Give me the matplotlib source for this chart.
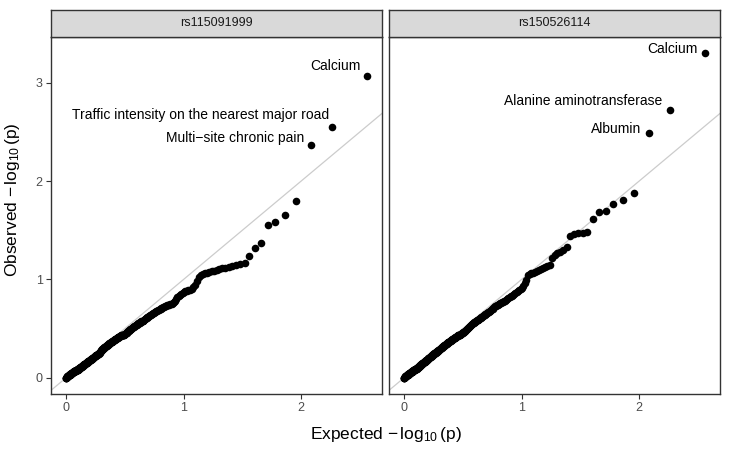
import numpy as np
import matplotlib; matplotlib.use("Agg"); import matplotlib.pyplot as plt

plt.rcParams["font.family"] = ["Liberation Sans", "DejaVu Sans"]
plt.rcParams["mathtext.fontset"] = "custom"
plt.rcParams["mathtext.rm"] = "Liberation Sans"
plt.rcParams["mathtext.it"] = "Liberation Sans"
plt.rcParams["mathtext.default"] = "regular"

# observed -log10(p), sorted high -> low (one value per trait)
snps = ["rs115091999", "rs150526114"]
obs_rs115091999 = [
    3.07, 2.55, 2.37, 1.80, 1.66, 1.585, 1.55, 1.37, 1.32, 1.24, 1.17,
    1.16, 1.15, 1.14, 1.13, 1.12, 1.12, 1.11, 1.10, 1.09, 1.09, 1.08, 1.07, 1.07, 1.06,
    1.05, 1.02, 0.98, 0.94, 0.92,
    0.90, 0.89, 0.89, 0.885, 0.88, 0.87,
    0.86, 0.85, 0.84, 0.83, 0.82, 0.80, 0.78, 0.77, 0.76,
    0.755, 0.75, 0.745, 0.74, 0.735, 0.73, 0.725, 0.72, 0.715, 0.71, 0.705, 0.70, 0.70,
    0.69, 0.69, 0.68, 0.68, 0.67, 0.67, 0.66, 0.66, 0.65, 0.65, 0.64, 0.64, 0.63, 0.63,
    0.62, 0.62, 0.61, 0.61, 0.60, 0.60, 0.59, 0.58,
    0.58, 0.58, 0.58, 0.57, 0.57, 0.56, 0.56, 0.56, 0.55, 0.55, 0.54, 0.54, 0.54, 0.53,
    0.53, 0.52, 0.52, 0.52, 0.51, 0.51, 0.50, 0.50, 0.50, 0.49, 0.49, 0.48, 0.48, 0.48,
    0.47, 0.47, 0.46, 0.46, 0.46, 0.45, 0.45,
    0.44, 0.44, 0.44, 0.44, 0.43, 0.43, 0.43, 0.43, 0.42, 0.42, 0.42, 0.42, 0.41, 0.41,
    0.41, 0.41, 0.40, 0.40, 0.40, 0.40, 0.39, 0.39, 0.39, 0.39, 0.38, 0.38, 0.38, 0.38,
    0.37, 0.37, 0.37, 0.37, 0.36, 0.36, 0.36, 0.36, 0.35, 0.35, 0.35, 0.35, 0.34, 0.34,
    0.34, 0.34, 0.33, 0.33, 0.33, 0.33, 0.32, 0.32, 0.32, 0.32, 0.31, 0.31, 0.31, 0.31,
    0.30, 0.30, 0.30, 0.30, 0.29, 0.29, 0.29, 0.29, 0.28, 0.28, 0.28,
    0.27, 0.27, 0.26, 0.26, 0.26, 0.25, 0.25, 0.25, 0.25, 0.24, 0.24, 0.24, 0.24, 0.24,
    0.23, 0.23, 0.23, 0.23,
    0.23, 0.23, 0.22, 0.22, 0.22, 0.22, 0.22, 0.21, 0.21, 0.21, 0.21, 0.21, 0.20, 0.20,
    0.20, 0.20, 0.20, 0.19, 0.19, 0.19, 0.19, 0.19, 0.19, 0.18, 0.18, 0.18, 0.18, 0.18, 0.18,
    0.17, 0.17, 0.17, 0.17, 0.17, 0.17, 0.16, 0.16, 0.16, 0.16, 0.16, 0.16,
    0.15, 0.15, 0.15, 0.15, 0.15, 0.15, 0.14, 0.14, 0.14, 0.14, 0.14, 0.14, 0.14,
    0.13, 0.13, 0.13, 0.13, 0.13, 0.13,
    0.12, 0.12, 0.12, 0.12, 0.12, 0.12, 0.12, 0.11, 0.11, 0.11, 0.11, 0.11, 0.11, 0.11,
    0.10, 0.10, 0.10, 0.10, 0.10, 0.10, 0.10, 0.09, 0.09, 0.09, 0.09, 0.09, 0.09, 0.09,
    0.08, 0.08, 0.08, 0.08, 0.08, 0.08, 0.08, 0.08, 0.08, 0.08, 0.08, 0.08,
    0.07, 0.07, 0.07, 0.07, 0.07, 0.07, 0.07, 0.07, 0.07, 0.07,
    0.06, 0.06, 0.06, 0.06, 0.06, 0.06, 0.06, 0.06, 0.06,
    0.05, 0.05, 0.05, 0.05, 0.05, 0.05, 0.05, 0.05,
    0.04, 0.04, 0.04, 0.04, 0.04, 0.04, 0.04, 0.04, 0.04,
    0.03, 0.03, 0.03, 0.03, 0.03, 0.03, 0.03, 0.03, 0.03,
    0.02, 0.02, 0.02, 0.02, 0.02, 0.02, 0.02, 0.02,
    0.01, 0.01, 0.01, 0.01, 0.01, 0.01, 0.00, 0.00, 0.00, 0.00,
]
obs_rs150526114 = [
    3.30, 2.72, 2.49, 1.88, 1.81, 1.77, 1.70, 1.69, 1.61,
    1.48, 1.475, 1.47, 1.46, 1.44,
    1.33, 1.30, 1.28, 1.27, 1.25, 1.22,
    1.15, 1.14, 1.13, 1.12, 1.11, 1.10, 1.09, 1.08, 1.07, 1.065, 1.06, 1.05,
    0.99, 0.96, 0.93, 0.91, 0.90, 0.89, 0.88, 0.87, 0.86, 0.85, 0.84, 0.83, 0.83, 0.82,
    0.81, 0.80, 0.79, 0.785,
    0.78, 0.775, 0.77, 0.765, 0.76, 0.755, 0.75, 0.745, 0.74, 0.73, 0.725, 0.72, 0.71,
    0.70, 0.695, 0.69,
    0.68, 0.68, 0.67, 0.67, 0.66, 0.66, 0.65, 0.65, 0.64, 0.64, 0.63, 0.63, 0.62, 0.62,
    0.61, 0.61, 0.60, 0.60, 0.59, 0.59, 0.59, 0.58, 0.58, 0.57, 0.57,
    0.57, 0.56, 0.56, 0.55, 0.55, 0.54, 0.54, 0.53, 0.53, 0.52, 0.52, 0.51, 0.51, 0.50,
    0.50, 0.49, 0.49, 0.48, 0.48, 0.48, 0.47, 0.47, 0.47, 0.46,
    0.46, 0.46, 0.45, 0.45, 0.45, 0.44, 0.44, 0.44, 0.43, 0.43, 0.43, 0.42, 0.42, 0.42,
    0.41, 0.41, 0.41, 0.41, 0.40, 0.40, 0.40, 0.40, 0.39, 0.39, 0.39, 0.39, 0.38, 0.38,
    0.38, 0.38,
    0.37, 0.37, 0.37, 0.37, 0.36, 0.36, 0.36, 0.36, 0.35, 0.35, 0.35, 0.35, 0.34, 0.34,
    0.34, 0.34, 0.33, 0.33, 0.33, 0.33, 0.32, 0.32, 0.32, 0.32, 0.31, 0.31, 0.31, 0.31,
    0.30, 0.30, 0.30, 0.30, 0.29, 0.29, 0.29, 0.29, 0.28,
    0.28, 0.28, 0.28, 0.27, 0.27, 0.27, 0.27, 0.27, 0.26, 0.26, 0.26, 0.26, 0.26,
    0.25, 0.25, 0.25, 0.25, 0.25, 0.24, 0.24, 0.24, 0.24, 0.24, 0.23, 0.23, 0.23, 0.23,
    0.23, 0.22, 0.22, 0.22, 0.22, 0.22, 0.21, 0.21, 0.21, 0.21, 0.21, 0.20, 0.20, 0.20,
    0.20, 0.20, 0.19, 0.19, 0.19, 0.19,
    0.18, 0.18, 0.18, 0.18, 0.18, 0.18, 0.17, 0.17, 0.17, 0.17, 0.17, 0.17,
    0.16, 0.16, 0.16, 0.16, 0.16, 0.16, 0.15, 0.15, 0.15, 0.15, 0.15, 0.15,
    0.14, 0.14, 0.14, 0.14, 0.14, 0.14, 0.13, 0.13, 0.13, 0.13, 0.13, 0.13,
    0.12, 0.12, 0.12, 0.12, 0.12, 0.12, 0.11, 0.11, 0.11, 0.11, 0.11, 0.11,
    0.10, 0.10, 0.10, 0.10, 0.10, 0.10, 0.09, 0.09, 0.09, 0.09, 0.09,
    0.09, 0.09, 0.09, 0.09, 0.09, 0.09, 0.08, 0.08, 0.08, 0.08, 0.08, 0.08, 0.08, 0.08,
    0.07, 0.07, 0.07, 0.07, 0.07, 0.07, 0.07, 0.07,
    0.06, 0.06, 0.06, 0.06, 0.06, 0.06, 0.06, 0.06, 0.06,
    0.05, 0.05, 0.05, 0.05, 0.05, 0.05, 0.05, 0.05,
    0.04, 0.04, 0.04, 0.04, 0.04, 0.04, 0.04, 0.04, 0.04,
    0.03, 0.03, 0.03, 0.03, 0.03, 0.03, 0.03, 0.03, 0.03,
    0.02, 0.02, 0.02, 0.02, 0.02, 0.02, 0.02, 0.02,
    0.01, 0.01, 0.01, 0.01, 0.01, 0.01, 0.00, 0.00, 0.00, 0.00,
]
observed = [obs_rs115091999, obs_rs150526114]
# labelled top hits (rank 1..3 in each panel)
labels_rs115091999 = ["Calcium", "Traffic intensity on the nearest major road", "Multi\u2212site chronic pain"]
labels_rs150526114 = ["Calcium", "Alanine aminotransferase", "Albumin"]
labels = [labels_rs115091999, labels_rs150526114]
# label nudges (points) as placed by the repel step in the original
nudges = [[(-4.5, 7.0), (-1.5, 8.5), (-5.0, 5.0)],
          [(-5.5, 3.0), (-5.0, 7.0), (-5.5, 2.5)]]

def expected(obs):
    # uniform quantiles for a QQ plot: -log10(rank / n)
    n = len(obs)
    return -np.log10(np.arange(1, n + 1) / n)

exps = [expected(o) for o in observed]
xmax = max(e.max() for e in exps); ymax = max(max(o) for o in observed)
xlim = (-0.05 * xmax, xmax * 1.05); ylim = (-0.05 * ymax, ymax * 1.05)

fig = plt.figure(figsize=(7.3, 4.51), dpi=100)
W, H = 730, 451
grey20 = "#333333"
for k, (snp, obs, ex, labs) in enumerate(zip(snps, observed, exps, labels)):
    left = [51, 389][k]
    ax = fig.add_axes([left / W, (H - 394) / H, 331 / W, 357 / H])
    ax.axline((0, 0), slope=1, color="#cccccc", lw=0.9, zorder=1)
    ax.scatter(ex, obs, s=30, color="black", linewidths=0, zorder=2)
    for r, lab in enumerate(labs):
        ax.annotate(lab, (ex[r], obs[r]), xytext=nudges[k][r], textcoords="offset points",
                    ha="right", va="center", fontsize=10, color="black")
    ax.set_xlim(*xlim); ax.set_ylim(*ylim)
    ax.set_xticks([0, 1, 2]); ax.set_yticks([0, 1, 2, 3])
    for s in ax.spines.values():
        s.set_color(grey20); s.set_linewidth(1.0)
    ax.tick_params(length=3.5, width=0.8, color=grey20, labelcolor="#4d4d4d", labelsize=9, pad=2.5)
    if k == 1:
        ax.tick_params(axis="y", left=False, labelleft=False)
    # facet strip
    sax = fig.add_axes([left / W, (H - 37) / H, 331 / W, 27 / H])
    sax.set_facecolor("#d9d9d9"); sax.set_xticks([]); sax.set_yticks([])
    for s in sax.spines.values():
        s.set_color(grey20); s.set_linewidth(1.0)
    sax.text(0.5, 0.5, snp, ha="center", va="center", fontsize=9, color="#1a1a1a", transform=sax.transAxes)

fig.text(386 / W, 1 - 434 / H, r"Expected $-\,\log_{10}(p)$", ha="center", va="center", fontsize=12.5)
fig.text(13 / W, 1 - 200 / H, r"Observed $-\,\log_{10}(p)$", ha="center", va="center", fontsize=12.5, rotation=90)
fig.savefig("out.png", dpi=100)
